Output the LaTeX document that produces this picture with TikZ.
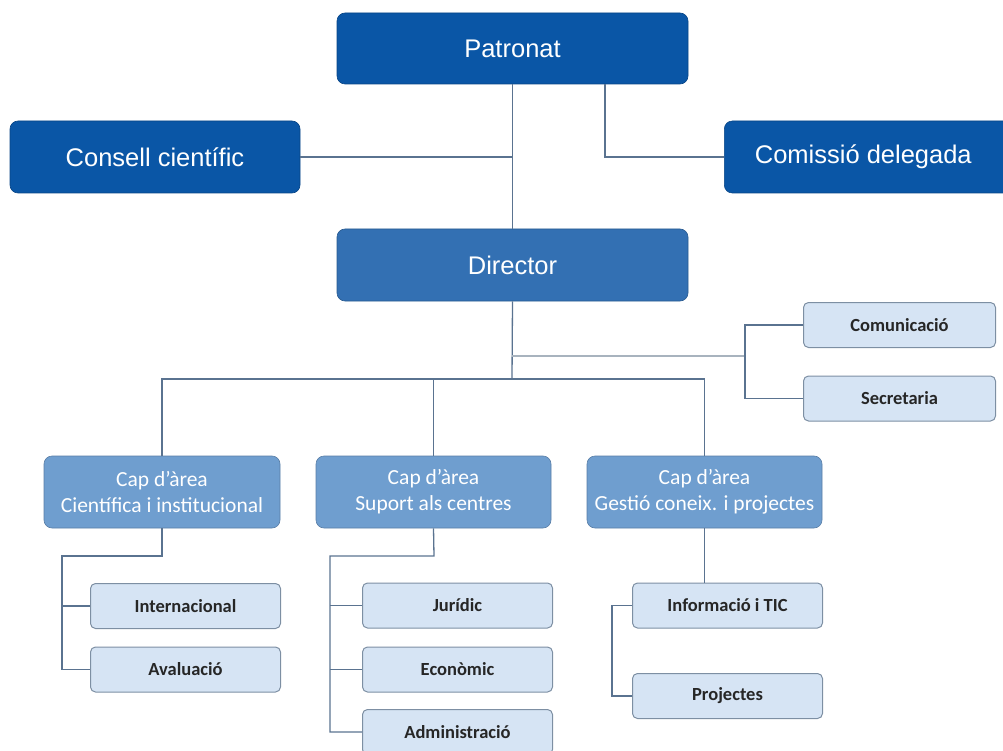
\documentclass[tikz,border=0pt]{standalone}
\usepackage{fontspec}
\setmainfont{Liberation Sans}
\newfontfamily\calfont{Carlito}
\definecolor{dkblue}{HTML}{0A56A6}
\definecolor{mdblue}{HTML}{3370B3}
\definecolor{ltblue}{HTML}{6F9ECF}
\definecolor{pale}{HTML}{D6E4F4}
\definecolor{paleborder}{HTML}{7D8FA3}
\definecolor{conn}{HTML}{5A7390}
\definecolor{connlt}{HTML}{A8B3BE}
\begin{document}
\begin{tikzpicture}[x=1pt,y=-1pt,
  topbox/.style={rectangle,rounded corners=8pt,fill=dkblue,draw=dkblue!80!black,line width=0.6pt,text=white,font=\fontsize{25.5}{30}\selectfont,inner sep=0pt},
  dirbox/.style={rectangle,rounded corners=8pt,fill=mdblue,draw=mdblue!80!black,line width=0.6pt,text=white,font=\fontsize{25.5}{30}\selectfont,inner sep=0pt},
  capbox/.style={rectangle,rounded corners=8pt,fill=ltblue,draw=ltblue!80!black,line width=0.6pt,text=white,font=\calfont\fontsize{21.5}{26}\selectfont,align=center,inner sep=0pt},
  smallbox/.style={rectangle,rounded corners=5pt,fill=pale,draw=paleborder,line width=1pt,text=black!85,font=\calfont\bfseries\fontsize{18.5}{22}\selectfont,inner sep=0pt,minimum width=190pt,minimum height=45pt},
  link/.style={draw=conn,line width=1.3pt},
  linklt/.style={draw=connlt,line width=1.6pt}]
\useasboundingbox (0,0) rectangle (1003,751);
% top level
\node[topbox,minimum width=351pt,minimum height=71pt] (pat) at (512.5,48.5) {Patronat};
\node[topbox,minimum width=290pt,minimum height=72pt] (cons) at (155,157) {Consell científic};
\node[topbox,minimum width=290pt,minimum height=72pt,anchor=west] (com) at (724,157) {\hspace*{-12pt}Comissió delegada};
\node[dirbox,minimum width=351pt,minimum height=72pt] (dir) at (512.5,265) {Director};
% staff
\node[smallbox,minimum width=192pt,anchor=west] (comu) at (803,325) {Comunicació};
\node[smallbox,minimum width=192pt,anchor=west] (secr) at (803,398.5) {Secretaria};
% caps
\node[capbox,minimum width=236pt,minimum height=72pt] (cap1) at (162,492) {Cap d’àrea\\Científica i institucional};
\node[capbox,minimum width=235pt,minimum height=72pt] (cap2) at (433.5,492) {Cap d’àrea\\Suport als centres};
\node[capbox,minimum width=235pt,minimum height=72pt] (cap3) at (704.5,492) {Cap d’àrea\\Gestió coneix. i projectes};
% units
\node[smallbox,anchor=west] (int) at (90,606) {Internacional};
\node[smallbox,anchor=west] (ava) at (90,669.5) {Avaluació};
\node[smallbox,anchor=west] (jur) at (362,605.5) {Jurídic};
\node[smallbox,anchor=west] (eco) at (362,669.5) {Econòmic};
\node[smallbox,anchor=west] (adm) at (362,732) {Administració};
\node[smallbox,anchor=west] (inf) at (632,605.5) {Informació i TIC};
\node[smallbox,anchor=west] (pro) at (632,696) {Projectes};
% coordinates
\coordinate (c1) at (512,157);
\coordinate (c2) at (605,157);
\coordinate (hb) at (512,379);
\coordinate (hs) at (512,356);
\coordinate (vs) at (745,356);
\coordinate (d1) at (162,556);
\coordinate (d2) at (434,556);
% connectors
\draw[link] (pat.south) -- (dir.north);
\draw[link] (cons.east) -- (c1);
\draw[link] (pat.south -| c2) -- (c2) -- (com.west);
\draw[link] (dir.south) -- (hb);
\draw[link] (cap1.north) |- (hb) -| (cap3.north);
\draw[link] (hb -| cap2.north) -- (cap2.north);
\draw[linklt] (hs) -- (vs);
\draw[link] (comu.west) -- (745,325) -- (745,398.5) -- (secr.west);
\draw[link] (cap1.south) -- (d1) -- (62,556) |- (ava.west);
\draw[link] (62,606) -- (int.west);
\draw[link] (cap2.south) -- (d2) -- (330,556) |- (adm.west);
\draw[link] (330,605.5) -- (jur.west);
\draw[link] (330,669.5) -- (eco.west);
\draw[link] (cap3.south) -- (inf.north -| cap3.south);
\draw[link] (inf.west) -- (612,605.5) |- (pro.west);
\end{tikzpicture}
\end{document}
